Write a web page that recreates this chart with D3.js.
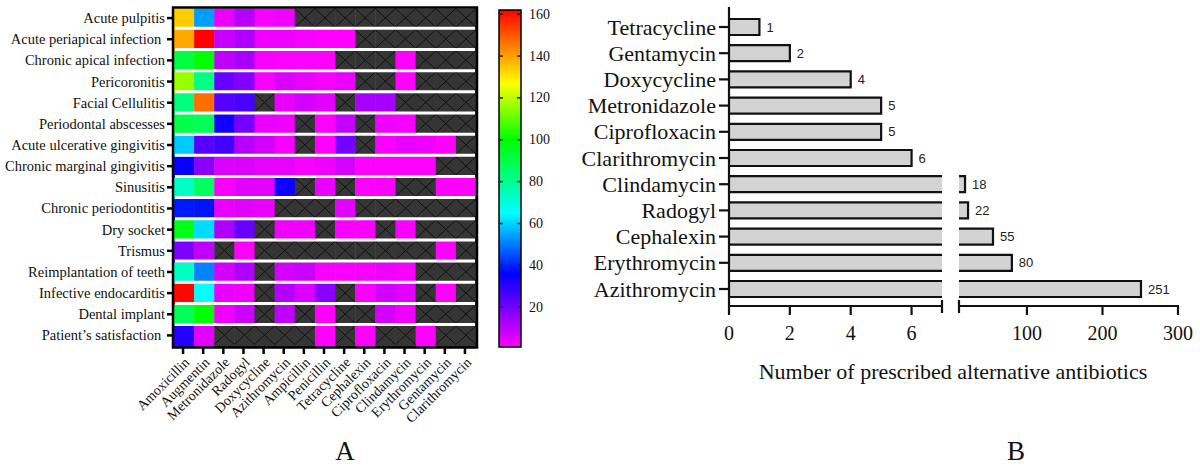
<!DOCTYPE html>
<html>
<head>
<meta charset="utf-8">
<script src="https://cdn.jsdelivr.net/npm/d3@7"></script>
<style>
html,body{margin:0;padding:0;background:#fff;}
svg{display:block;}
</style>
</head>
<body>
<svg id="chart" width="1200" height="467"></svg>
<script>
// ---------- Panel A data ----------
const conditions = ["Acute pulpitis","Acute periapical infection ","Chronic apical infection","Pericoronitis","Facial Cellulitis","Periodontal abscesses","Acute ulcerative gingivitis","Chronic marginal gingivitis","Sinusitis","Chronic periodontitis","Dry socket","Trismus","Reimplantation of teeth","Infective endocarditis","Dental implant","Patient\u2019s satisfaction "];
const drugsA = ["Amoxicillin","Augmentin","Metronidazole","Radogyl","Doxycycline","Azithromycin","Ampicillin","Penicillin","Tetracycline","Cephalexin","Ciprofloxacin","Clindamycin","Erythromycin","Gentamycin","Clarithromycin"];
const N = null;
const heatValues = [
  [134, 54, 4, 11, 2, 3, N, N, N, N, N, N, N, N, N],
  [139,162, 9, 12, 3, 3, 2, 1, 1, N, N, N, N, N, N],
  [ 91,100,10, 13, 2, 1, 1, 1, N, N, N, 1, N, N, N],
  [116, 82,22, 18, 2, 6, 4, 2, 4, N, N, 1, N, N, N],
  [ 83,147,24, 26, N, 4, 7, 5, N,13,13, N, N, N, N],
  [ 90, 88,34, 20, 4, 3, N, 1, 9, N, 3, 2, N, N, N],
  [ 59, 24,27, 11, 7, 2, N, 1,20, N, 2, 4, 3, 1, N],
  [ 35, 17, 6,  6, 4, 4, 2, 3, 7, 1, 1, 1, 1, N, N],
  [ 73, 87, 2,  5, 5,34, N, 4, N, 1, 2, N, N, 1, 1],
  [ 39, 38, 4,  5, 4, N, N, N, 5, N, N, N, N, N, N],
  [ 97, 61,12, 22, N, 3, 3, N, 2, 2, N, 2, N, N, N],
  [ 19, 10, N,  1, N, N, N, N, N, N, N, N, N, 1, N],
  [ 73, 51, 7, 12, N, 7, 8, 2, 2, 2, 3, 2, N, N, N],
  [161, 65, 4,  3, N,11, 6,17, N, 2, 7, 5, N, 1, N],
  [ 88,100, 3,  8, N,10, N, 1, N, N, 7, 3, N, N, N],
  [ 31,  5, N,  N, N, N, N, 1, N, 1, N, N, 1, N, N]
];
const colorStops = [1, 36, 65, 100, 127, 162];
const colorStopColors = ["#ff00ff","#0000ff","#00ffff","#00ff00","#ffff00","#ff0000"];
const colorbarTicks = [20, 40, 60, 80, 100, 120, 140, 160];

// ---------- Panel B data ----------
const drugsB = ["Tetracycline","Gentamycin","Doxycycline","Metronidazole","Ciprofloxacin","Clarithromycin","Clindamycin","Radogyl","Cephalexin","Erythromycin","Azithromycin"];
const countsB = [1, 2, 4, 5, 5, 6, 18, 22, 55, 80, 251];
const ticksLeft = [0, 2, 4, 6];
const ticksRight = [100, 200, 300];
const xTitle = "Number of prescribed alternative antibiotics";

const svg = d3.select("#chart");
const serif = "'Liberation Serif','Times New Roman',serif";
const sans = "'Liberation Sans',Arial,sans-serif";

// ================= Panel A =================
const hmL = 174, hmR = 476, hmT = 8.5, hmB = 347;
const x = d3.scaleBand().domain(drugsA).range([hmL, hmR]);
const y = d3.scaleBand().domain(conditions).range([hmT, hmB]);
const color = d3.scaleLinear().domain(colorStops).range(colorStopColors).interpolate(d3.interpolateRgb).clamp(true);

const cells = [];
heatValues.forEach((row, i) => row.forEach((v, j) => cells.push({r: conditions[i], c: drugsA[j], v})));

const gA = svg.append("g");
gA.selectAll("rect.cell").data(cells).join("rect")
  .attr("x", d => x(d.c)).attr("y", d => y(d.r))
  .attr("width", x.bandwidth() + 0.5).attr("height", y.bandwidth() + 0.5)
  .attr("fill", d => d.v == null ? "#353535" : color(d.v));

// X marks for missing cells
const missing = cells.filter(d => d.v == null);
gA.selectAll("path.miss").data(missing).join("path")
  .attr("d", d => {
    const x0 = x(d.c), y0 = y(d.r), w = x.bandwidth(), h = y.bandwidth() - 2.5;
    return `M${x0},${y0}L${x0 + w},${y0 + h}M${x0 + w},${y0}L${x0},${y0 + h}`;
  })
  .attr("stroke", "#111").attr("stroke-width", 1).attr("fill", "none");

// white separators between rows
gA.selectAll("line.sep").data(conditions.slice(1)).join("line")
  .attr("x1", hmL + 1).attr("x2", hmR - 1)
  .attr("y1", d => y(d) - 1.3).attr("y2", d => y(d) - 1.3)
  .attr("stroke", "#fff").attr("stroke-width", 3);

// border
gA.append("rect").attr("x", hmL - 1).attr("y", hmT - 1).attr("width", hmR - hmL + 2).attr("height", hmB - hmT + 1.5)
  .attr("fill", "none").attr("stroke", "#000").attr("stroke-width", 2.5);

// y ticks and labels
gA.selectAll("line.yt").data(conditions).join("line")
  .attr("x1", hmL - 7).attr("x2", hmL - 1)
  .attr("y1", d => y(d) + y.bandwidth() / 2 - 1).attr("y2", d => y(d) + y.bandwidth() / 2 - 1)
  .attr("stroke", "#000").attr("stroke-width", 2.5);
gA.selectAll("text.yl").data(conditions).join("text")
  .attr("x", hmL - 9).attr("y", d => y(d) + y.bandwidth() / 2 - 1)
  .attr("text-anchor", "end").attr("dominant-baseline", "central")
  .style("white-space", "pre")
  .attr("font-family", serif).attr("font-size", 14.5).attr("fill", "#111")
  .text(d => d);

// x ticks and labels
gA.selectAll("line.xt").data(drugsA).join("line")
  .attr("x1", d => x(d) + x.bandwidth() / 2 - 1).attr("x2", d => x(d) + x.bandwidth() / 2 - 1)
  .attr("y1", hmB + 0.5).attr("y2", hmB + 7)
  .attr("stroke", "#000").attr("stroke-width", 2.5);
gA.selectAll("text.xl").data(drugsA).join("text")
  .attr("transform", d => `translate(${x(d) + x.bandwidth() / 2 + 3},${hmB + 13}) rotate(-45)`)
  .attr("text-anchor", "end").attr("dominant-baseline", "central")
  .attr("font-family", serif).attr("font-size", 14).attr("fill", "#111")
  .text(d => d);

// colorbar
const cbX = 499, cbW = 22, cbTop = 10, cbBot = 347;
const cbY = d3.scaleLinear().domain([1, 162]).range([cbBot, cbTop]);
const defs = svg.append("defs");
const grad = defs.append("linearGradient").attr("id", "cbgrad")
  .attr("x1", "0").attr("y1", "1").attr("x2", "0").attr("y2", "0");
grad.selectAll("stop").data(colorStops).join("stop")
  .attr("offset", d => (d - 1) / (162 - 1))
  .attr("stop-color", d => color(d));
gA.append("rect").attr("x", cbX).attr("y", cbTop).attr("width", cbW).attr("height", cbBot - cbTop)
  .attr("fill", "url(#cbgrad)").attr("stroke", "#000").attr("stroke-width", 1.5);
gA.selectAll("line.cbl").data(colorbarTicks).join("line")
  .attr("x1", cbX).attr("x2", cbX + 4).attr("y1", d => cbY(d)).attr("y2", d => cbY(d))
  .attr("stroke", "#222").attr("stroke-width", 1.5);
gA.selectAll("line.cbr").data(colorbarTicks).join("line")
  .attr("x1", cbX + cbW - 4).attr("x2", cbX + cbW).attr("y1", d => cbY(d)).attr("y2", d => cbY(d))
  .attr("stroke", "#222").attr("stroke-width", 1.5);
gA.selectAll("text.cbt").data(colorbarTicks).join("text")
  .attr("x", cbX + cbW + 8).attr("y", d => cbY(d))
  .attr("dominant-baseline", "central")
  .attr("font-family", serif).attr("font-size", 14).attr("fill", "#111")
  .text(d => d);

gA.append("text").attr("x", 345).attr("y", 460).attr("text-anchor", "middle")
  .attr("font-family", serif).attr("font-size", 27).attr("fill", "#111").text("A");

// ================= Panel B =================
const gB = svg.append("g");
const xL = d3.scaleLinear().domain([0, 7]).range([729, 942]);
const xR = d3.scaleLinear().domain([10, 300]).range([959, 1178]);
const yB = d3.scalePoint().domain(drugsB).range([27, 289]);
const barH = 16;
const axisY = 306;
const dataB = drugsB.map((d, i) => ({name: d, v: countsB[i]}));

// left segment bars
gB.selectAll("rect.bl").data(dataB).join("rect")
  .attr("x", xL(0)).attr("y", d => yB(d.name) - barH / 2)
  .attr("width", d => Math.min(xL(Math.min(d.v, 7)), 942) - xL(0))
  .attr("height", barH).attr("fill", "#d3d3d3");
gB.selectAll("path.bl").data(dataB).join("path")
  .attr("d", d => {
    const x0 = xL(0), y0 = yB(d.name) - barH / 2, y1 = y0 + barH;
    if (d.v <= 7) { const x1 = xL(d.v); return `M${x0},${y0}H${x1}V${y1}H${x0}`; }
    return `M${x0},${y0}H942M942,${y1}H${x0}`;
  })
  .attr("fill", "none").attr("stroke", "#111").attr("stroke-width", 2.2);

// right segment bars
const bigB = dataB.filter(d => d.v > 7);
gB.selectAll("rect.br").data(bigB).join("rect")
  .attr("x", xR(10)).attr("y", d => yB(d.name) - barH / 2)
  .attr("width", d => xR(d.v) - xR(10))
  .attr("height", barH).attr("fill", "#d3d3d3");
gB.selectAll("path.br").data(bigB).join("path")
  .attr("d", d => {
    const x0 = xR(10), x1 = xR(d.v), y0 = yB(d.name) - barH / 2, y1 = y0 + barH;
    return `M${x0},${y0}H${x1}V${y1}H${x0}`;
  })
  .attr("fill", "none").attr("stroke", "#111").attr("stroke-width", 2.2);

// value labels
gB.selectAll("text.val").data(dataB).join("text")
  .attr("x", d => (d.v <= 7 ? xL(d.v) : xR(d.v)) + 7)
  .attr("y", d => yB(d.name))
  .attr("dominant-baseline", "central")
  .attr("font-family", sans).attr("font-size", 13).attr("fill", "#222")
  .text(d => d.v);

// y axis
gB.append("line").attr("x1", 729).attr("x2", 729).attr("y1", 7).attr("y2", axisY)
  .attr("stroke", "#111").attr("stroke-width", 2.2);
gB.selectAll("line.ybt").data(drugsB).join("line")
  .attr("x1", 719).attr("x2", 729).attr("y1", d => yB(d)).attr("y2", d => yB(d))
  .attr("stroke", "#111").attr("stroke-width", 2.2);
gB.selectAll("text.ybl").data(drugsB).join("text")
  .attr("x", 716).attr("y", d => yB(d))
  .attr("text-anchor", "end").attr("dominant-baseline", "central")
  .attr("font-family", serif).attr("font-size", 22).attr("fill", "#111")
  .text(d => d);

// x axis (broken)
gB.append("line").attr("x1", 728).attr("x2", 942).attr("y1", axisY).attr("y2", axisY)
  .attr("stroke", "#111").attr("stroke-width", 2.2);
gB.append("line").attr("x1", 959).attr("x2", 1179).attr("y1", axisY).attr("y2", axisY)
  .attr("stroke", "#111").attr("stroke-width", 2.2);
gB.append("line").attr("x1", 942).attr("x2", 942).attr("y1", axisY - 6).attr("y2", axisY + 7)
  .attr("stroke", "#111").attr("stroke-width", 2.2);
gB.append("line").attr("x1", 959).attr("x2", 959).attr("y1", axisY - 6).attr("y2", axisY + 7)
  .attr("stroke", "#111").attr("stroke-width", 2.2);
gB.selectAll("line.xlt").data(ticksLeft).join("line")
  .attr("x1", d => xL(d)).attr("x2", d => xL(d)).attr("y1", axisY).attr("y2", axisY + 9)
  .attr("stroke", "#111").attr("stroke-width", 2.2);
gB.selectAll("line.xrt").data(ticksRight).join("line")
  .attr("x1", d => xR(d)).attr("x2", d => xR(d)).attr("y1", axisY).attr("y2", axisY + 9)
  .attr("stroke", "#111").attr("stroke-width", 2.2);
gB.selectAll("text.xll").data(ticksLeft).join("text")
  .attr("x", d => xL(d)).attr("y", 340).attr("text-anchor", "middle")
  .attr("font-family", serif).attr("font-size", 20).attr("fill", "#111").text(d => d);
gB.selectAll("text.xrl").data(ticksRight).join("text")
  .attr("x", d => xR(d)).attr("y", 340).attr("text-anchor", "middle")
  .attr("font-family", serif).attr("font-size", 20).attr("fill", "#111").text(d => d);

gB.append("text").attr("x", 953).attr("y", 379).attr("text-anchor", "middle")
  .attr("font-family", serif).attr("font-size", 22).attr("fill", "#111").text(xTitle);

gB.append("text").attr("x", 1016).attr("y", 460).attr("text-anchor", "middle")
  .attr("font-family", serif).attr("font-size", 27).attr("fill", "#111").text("B");
</script>
</body>
</html>
